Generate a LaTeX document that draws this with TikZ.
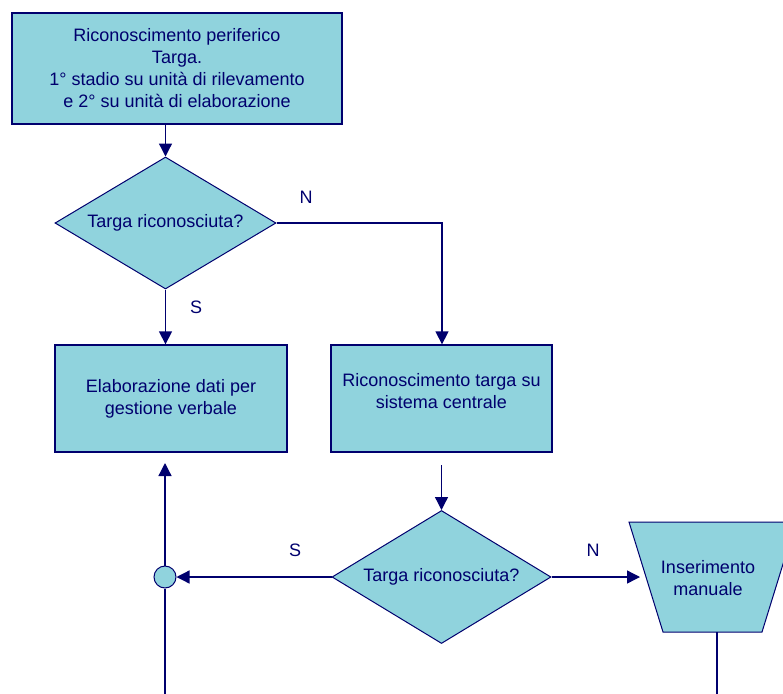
\documentclass[tikz,border=0pt]{standalone}
\usepackage{fontspec}
\setmainfont{Liberation Sans}
\usetikzlibrary{shapes.geometric,arrows.meta,calc}
\definecolor{boxfill}{RGB}{144,211,221}
\definecolor{ink}{RGB}{0,0,110}
\begin{document}
\begin{tikzpicture}[x=1pt,y=-1pt,
  txt/.style={text=ink, font=\fontsize{18}{22}\selectfont, align=center},
  procbox/.style={txt, rectangle, draw=ink, fill=boxfill, line width=1.3pt, inner sep=0pt},
  decision/.style={txt, diamond, aspect=1.67, draw=ink, fill=boxfill, line width=1pt, inner sep=0pt},
  shapeline/.style={draw=ink, fill=boxfill, line width=1pt, line join=miter},
  joint/.style={circle, draw=ink, fill=boxfill, line width=1pt, minimum size=22pt, inner sep=0pt},
  lbl/.style={txt},
  link/.style={draw=ink, line width=1.3pt},
  flow/.style={link, -{Triangle[width=13pt,length=13pt]}}]
\useasboundingbox (0,0) rectangle (783,693);
\clip (0,0) rectangle (783,693);

% process boxes
\node[procbox, minimum width=330pt, minimum height=111pt] (b1) at (177,68.5)
  {Riconoscimento periferico\\Targa.\\1° stadio su unità di rilevamento\\e 2° su unità di elaborazione};
\node[procbox, minimum width=232pt, minimum height=107pt] (b2) at (171,398.5)
  {Elaborazione dati per\\gestione verbale};
\node[procbox, minimum width=221pt, minimum height=107pt] (b3) at (441.5,398.5) {};
\node[txt] (b3t) at (441.5,391) {Riconoscimento targa su\\sistema centrale};

% decisions
\node[decision, minimum width=221pt, minimum height=132pt] (d1) at (165.5,223) {Targa riconosciuta?};
\node[decision, minimum width=219pt, minimum height=133pt] (d2) at (441.5,577) {Targa riconosciuta?};

% junction
\node[joint] (j) at (165,577) {};

% manual input (inverted trapezoid)
\coordinate (tl) at (629,522);
\coordinate (tr) at (796,522);
\coordinate (br) at (762,632);
\coordinate (bl) at (663,632);
\path[shapeline] (tl) -- (tr) -- (br) -- (bl) -- cycle;
\node[txt] (trap) at (708,578) {Inserimento\\manuale};
\coordinate (tin) at (640,577);
\coordinate (tout) at (717,632);

% free ends
\coordinate (c3) at (441.5,465);
\coordinate (up) at (165,463);
\coordinate (dn) at (165,700);
\coordinate (tdn) at (717,700);

% connectors
\draw[flow] (d1.north |- b1.south) -- (d1.north);
\draw[flow] (d1.east) -| (b3.north -| 442,0);
\draw[flow] (d1.south) -- (d1.south |- b2.north);
\draw[flow] (c3) -- (d2.north);
\draw[flow] (d2.west) -- (j.east);
\draw[flow] (j.north) -- (up);
\draw[link] (j.south) -- (dn);
\draw[flow] (d2.east) -- (tin);
\draw[link] (tout) -- (tdn);

% branch labels
\node[lbl] (n1) at (306,197) {N};
\node[lbl] (s1) at (196,307) {S};
\node[lbl] (s2) at (295,550) {S};
\node[lbl] (n2) at (593,550) {N};
\end{tikzpicture}
\end{document}
